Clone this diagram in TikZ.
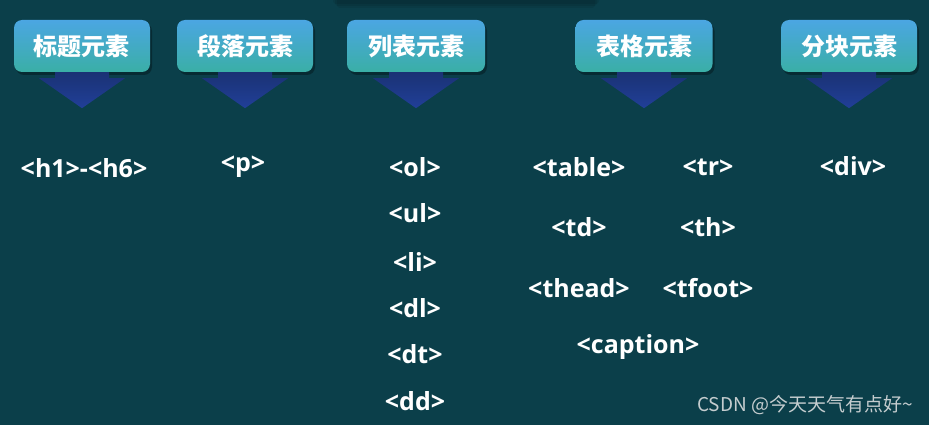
\documentclass[tikz,border=0pt]{standalone}
\usepackage{fontspec}
\setmainfont{Open Sans}
\newfontfamily\cjkfont{Noto Sans CJK SC}
\usetikzlibrary{shadows,calc}

\definecolor{bgteal}{HTML}{0B3F4A}
\definecolor{boxtop}{HTML}{4BA6E2}
\definecolor{boxbot}{HTML}{3AAFA6}
\definecolor{arrowtop}{HTML}{1A3274}
\definecolor{arrowbot}{HTML}{213F98}
\definecolor{markgray}{HTML}{C5CDCF}

\tikzset{
    catbox/.style={rounded corners=8pt, top color=boxtop, bottom color=boxbot,
        minimum width=136pt, minimum height=52pt, inner sep=0pt, text=white,
        font=\cjkfont\bfseries\fontsize{24}{24}\selectfont,
        drop shadow={fill=black, opacity=0.3, shadow xshift=2pt, shadow yshift=-3pt}},
    tag/.style={text=white, inner sep=0pt, font=\bfseries\fontsize{25}{25}\selectfont},
    downarrow/.style={top color=arrowtop, bottom color=arrowbot, draw=none},
}

\begin{document}
\begin{tikzpicture}[x=1pt, y=-1pt]
\useasboundingbox (0,0) rectangle (929,425);
\fill[bgteal] (0,0) rectangle (929,425);
\foreach \d in {0,2,4}
    \fill[black, opacity=0.08, rounded corners=3pt] (333+\d,-5) rectangle (599-\d,4+\d);

% categories
\node [catbox] (title) at (82,46) {标题元素};
\node [catbox] (para) at (245,46) {段落元素};
\node [catbox, minimum width=138pt] (list) at (416,46) {列表元素};
\node [catbox, minimum width=137pt] (table) at (644,46) {表格元素};
\node [catbox] (block) at (849,46) {分块元素};

\foreach \b in {title, para, list, table, block}
    \shade[downarrow] ($(\b.south)+(-27,0)$) -- ++(54,0) -- ++(0,6) -- ++(16,0)
        -- ($(\b.south)+(0,36)$) -- ($(\b.south)+(-43,6)$) -- ++(16,0) -- cycle;

% tags
\node [tag] (h) at (84,168) {<h1>-<h6>};
\node [tag] (p) at (243,167) {<p>};

\node [tag] (ol) at (415,167) {<ol>};
\node [tag] (ul) at (415,213) {<ul>};
\node [tag] (li) at (415,262) {<li>};
\node [tag] (dl) at (415,308) {<dl>};
\node [tag] (dt) at (415,354) {<dt>};
\node [tag] (dd) at (415,401) {<dd>};

\node [tag] (tbl) at (579,167) {<table>};
\node [tag] (tr) at (708,167) {<tr>};
\node [tag] (td) at (579,227) {<td>};
\node [tag] (th) at (708,227) {<th>};
\node [tag] (thead) at (579,288) {<thead>};
\node [tag] (tfoot) at (708,288) {<tfoot>};
\node [tag] (caption) at (638,347) {<caption>};

\node [tag] (div) at (853,166) {<div>};

\node [text=markgray, inner sep=0pt, font=\cjkfont\fontsize{19}{19}\selectfont, anchor=east]
    (mark) at (913,405) {CSDN @今天天气有点好\textasciitilde};
\end{tikzpicture}
\end{document}
